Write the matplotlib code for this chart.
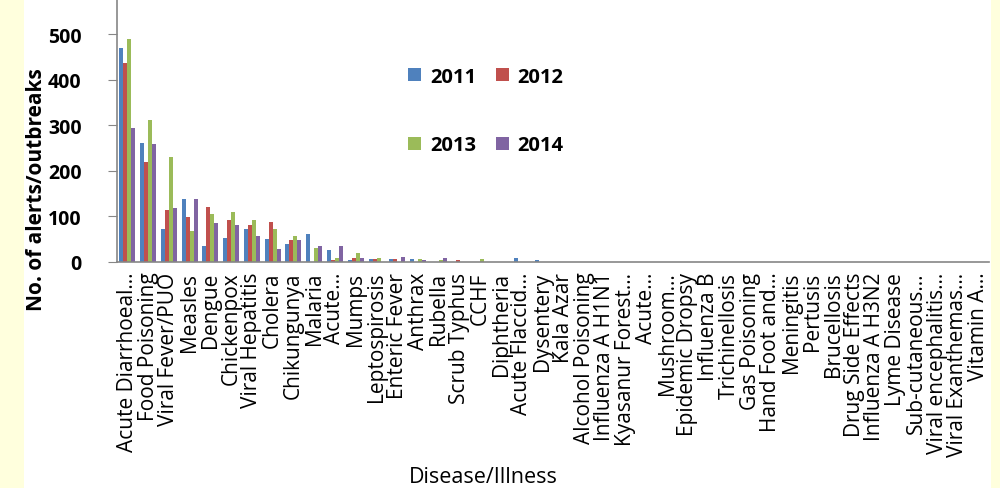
import numpy as np
import matplotlib
matplotlib.use("Agg")
import matplotlib.pyplot as plt
from matplotlib.patches import Rectangle

plt.rcParams['font.family'] = ['Open Sans', 'DejaVu Sans']

# data
diseases = [
    "Acute Diarrhoeal...", "Food Poisoning", "Viral Fever/PUO", "Measles", "Dengue",
    "Chickenpox", "Viral Hepatitis", "Cholera", "Chikungunya", "Malaria",
    "Acute...", "Mumps", "Leptospirosis", "Enteric Fever", "Anthrax",
    "Rubella", "Scrub Typhus", "CCHF", "Diphtheria", "Acute Flaccid...",
    "Dysentery", "Kala Azar", "Alcohol Poisoning", "Influenza A H1N1", "Kyasanur Forest...",
    "Acute...", "Mushroom...", "Epidemic Dropsy", "Influenza B", "Trichinellosis",
    "Gas Poisoning", "Hand Foot and...", "Meningitis", "Pertusis", "Brucellosis",
    "Drug Side Effects", "Influenza A H3N2", "Lyme Disease", "Sub-cutaneous...", "Viral encephalitis...",
    "Viral Exanthemas...", "Vitamin A...",
]
years = ["2011", "2012", "2013", "2014"]
v2011 = [469, 262, 73, 138, 34, 53, 73, 51, 39, 62, 26, 4, 7, 7, 7, 0, 0, 0, 0, 9, 4] + [0] * 21
v2012 = [436, 219, 113, 98, 121, 93, 82, 88, 48, 0, 4, 9, 7, 7, 0, 0, 4, 0, 0, 0, 0] + [0] * 21
v2013 = [489, 312, 231, 68, 105, 110, 93, 73, 56, 31, 9, 20, 9, 0, 7, 4, 0, 7, 0, 0, 0] + [0] * 21
v2014 = [295, 259, 118, 138, 85, 82, 56, 29, 48, 34, 34, 9, 0, 12, 4, 9, 0, 0, 0, 0, 0] + [0] * 21
series = [v2011, v2012, v2013, v2014]
colors = ["#4F81BD", "#C0504D", "#9BBB59", "#8064A2"]

fig = plt.figure(figsize=(10, 4.89), dpi=100, facecolor="#FFFFDD")
# white chart area between the yellow side strips
fig.patches.append(Rectangle((0.024, 0), 0.967, 1, transform=fig.transFigure,
                             facecolor="white", edgecolor="none", zorder=-10))

ax = fig.add_axes([0.117, 0.4622, 0.872, 0.5378])
ax.set_facecolor("white")

x = np.arange(len(diseases))
w = 0.193
bars = []
for k, (vals, c) in enumerate(zip(series, colors)):
    bars.append(ax.bar(x + (k - 1.5) * w, vals, width=w, color=c, edgecolor="none"))

ax.set_xlim(-0.5, len(diseases) - 0.5)
ax.set_ylim(0, 577)
ax.set_yticks([0, 100, 200, 300, 400, 500])
ax.set_xticks(x)
ax.set_xticklabels(diseases, rotation=90, fontsize=15)
ax.tick_params(axis="x", length=0, pad=7)
ax.tick_params(axis="y", length=6.5, color="#868686", labelsize=14, pad=19)
for lab in ax.get_yticklabels():
    lab.set_fontweight("bold")

for s in ["top", "right"]:
    ax.spines[s].set_visible(False)
for s in ["left", "bottom"]:
    ax.spines[s].set_color("#868686")
    ax.spines[s].set_linewidth(1.2)

ax.set_ylabel("No. of alerts/outbreaks", fontsize=15, fontweight="bold")
ax.yaxis.set_label_coords(-0.08, 0.28)
fig.text(0.483, 0.003, "Disease/Illness", ha="center", va="bottom", fontsize=15.5)

# legend fills column-wise, so order handles to get 2011 2012 / 2013 2014 rows
order = [0, 2, 1, 3]
ax.legend([bars[i] for i in order], [years[i] for i in order], ncol=2, loc="center",
          bbox_to_anchor=(0.486, 0.771), bbox_transform=fig.transFigure,
          frameon=False, borderpad=0, handlelength=0.62, handleheight=0.62,
          handletextpad=0.45, columnspacing=1.0, labelspacing=2.4,
          prop={"size": 14.5, "weight": "bold"})

fig.savefig("out.png", dpi=100, facecolor=fig.get_facecolor())
